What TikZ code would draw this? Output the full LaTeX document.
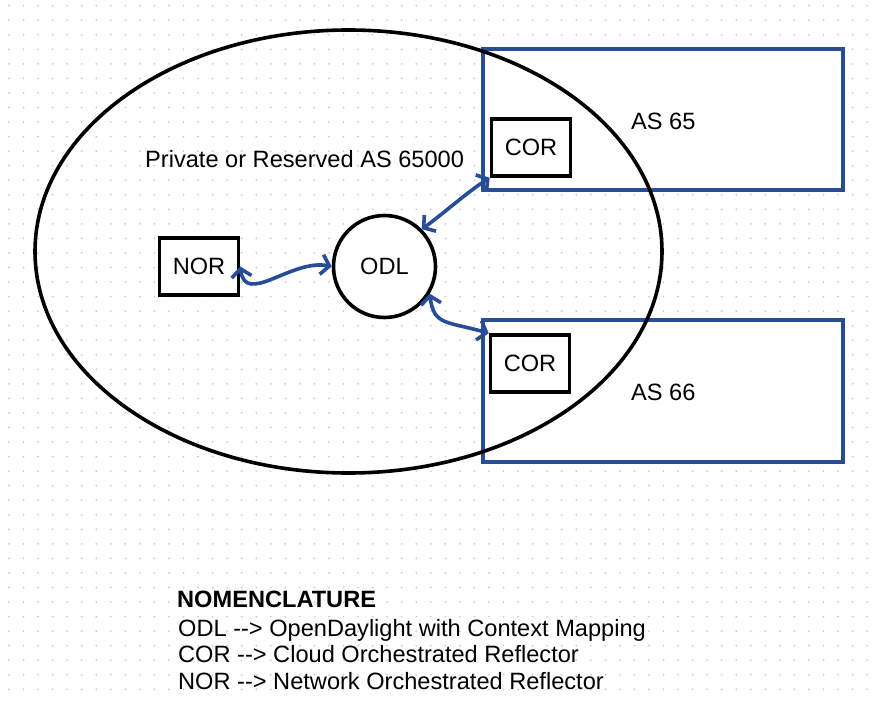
\documentclass[tikz,border=0pt]{standalone}
\usepackage{fontspec}
\setmainfont{Liberation Sans}
\usetikzlibrary{arrows.meta}
\definecolor{bluec}{RGB}{40,77,152}
\definecolor{dotc}{RGB}{205,205,205}
\newcommand{\figfont}{\fontsize{23.6}{28}\selectfont}
\newcommand{\arr}{\mbox{-}\mbox{-}>}
\tikzset{
  every node/.style={font=\figfont, inner sep=0pt},
  blackbox/.style={draw=black, line width=3.6pt, fill=white, minimum width=79pt, minimum height=57pt},
  asbox/.style={draw=bluec, line width=3.2pt, fill=white},
  conn/.style={draw=bluec, line width=3.6pt, {Straight Barb[length=8pt,width=20pt]}-{Straight Barb[length=8pt,width=20pt]}},
  legend/.style={anchor=base west}
}
\begin{document}
\begin{tikzpicture}[x=1pt,y=-1pt]
\useasboundingbox (0,0) rectangle (874,703);
\fill[white] (0,0) rectangle (874,703);
\foreach \i in {0,...,59}
  \foreach \j in {0,...,47}
    \fill[dotc] ({9+\i*14.545},{5.7+\j*14.545}) circle (1);
% AS rectangles (white filled)
\path[asbox] (483,49) rectangle (843,190);
\path[asbox] (483,320) rectangle (843,462);
% ellipse
\draw[line width=3.6pt] (348.5,251.5) ellipse [x radius=313.5, y radius=221.5];
% labels
\node[anchor=base west] (priv) at (145,167.3) {Private or Reserved AS 65000};
\node[anchor=base west] (as65) at (631,130) {AS 65};
\node[anchor=base west] (as66) at (631,400) {AS 66};
% boxes
\node[blackbox] (cor1) at (531,147.5) {COR};
\node[blackbox] (cor2) at (530,363.5) {COR};
\node[blackbox] (nor) at (199,266.5) {NOR};
\node[draw=black, line width=3.6pt, fill=white, circle, minimum size=102pt] (odl) at (384.5,266.5) {ODL};
% connectors
\draw[conn] (nor.east) .. controls +(5,40) and +(-40,-8) .. (odl.west);
\draw[conn] (odl.45) .. controls +(22,-16) and +(-22,14) .. (cor1.south west);
\draw[conn] (odl.-31) .. controls +(4,32) and +(-42,-12) .. (cor2.north west);
% nomenclature
\node[legend] (nomt) at (177,607.3) {\bfseries NOMENCLATURE};
\node[legend] (n1) at (178,636.7) {ODL \arr{} OpenDaylight with Context Mapping};
\node[legend] (n2) at (178,662) {COR \arr{} Cloud Orchestrated Reflector};
\node[legend] (n3) at (178,689) {NOR \arr{} Network Orchestrated Reflector};
\end{tikzpicture}
\end{document}
